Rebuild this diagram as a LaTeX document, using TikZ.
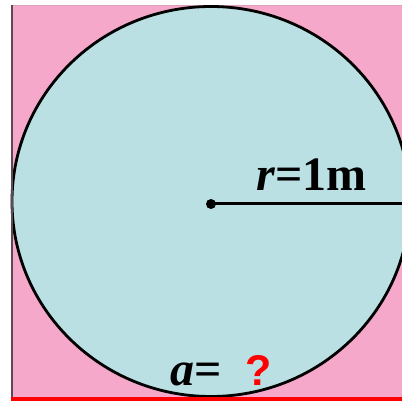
\documentclass[tikz,border=0pt]{standalone}
\usepackage{fontspec}
\setmainfont{Liberation Serif}
\newfontfamily\qsans{Liberation Sans}
\definecolor{bgpink}{RGB}{245,168,202}
\definecolor{disc}{RGB}{186,224,227}
\definecolor{edgegray}{RGB}{90,75,82}
\begin{document}
\begin{tikzpicture}[x=1pt,y=-1pt,
  lbl/.style={inner sep=0pt,anchor=base west,font=\fontsize{48}{48}\selectfont\bfseries}]
\useasboundingbox (0,0) rectangle (402,401);
\fill[bgpink] (12,5) rectangle (402,398);
\draw[line width=0.8pt,color=bgpink!80!gray] (12,5) -- (402,5);
\begin{scope}
\clip (0,0) rectangle (402,401);
\draw[fill=disc,line width=2.8pt] (211,201.5) ellipse [x radius=199,y radius=195];
\end{scope}
\draw[edgegray,line width=2.6pt] (12,5) -- (12,398);
\draw[red,line width=4pt] (11,399) -- (402,399);
\coordinate (o) at (211,204);
\coordinate (e) at (402,204);
\fill (o) circle (5);
\draw[line width=3pt] (o) -- (e);
\node[lbl] (r) at (256,191) {\textit{r}=1m};
\node[lbl] (a) at (170,385) {\textit{a}=};
\node[inner sep=0pt,anchor=base west,font=\fontsize{43}{43}\selectfont\qsans\bfseries,text=red] (q) at (245,385) {?};
\end{tikzpicture}
\end{document}
